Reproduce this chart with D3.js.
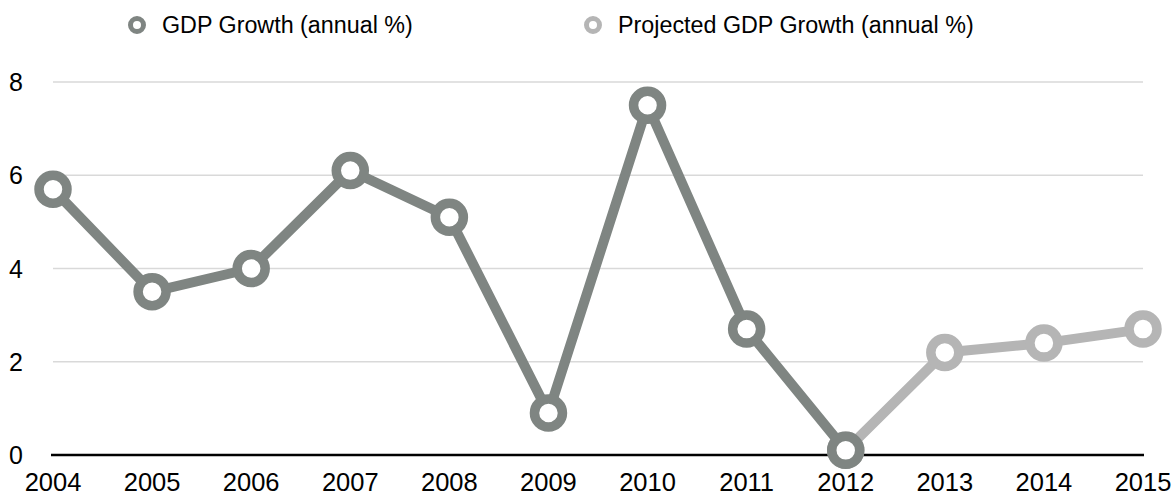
<!DOCTYPE html>
<html>
<head>
<meta charset="utf-8">
<script src="https://cdn.jsdelivr.net/npm/d3@7"></script>
<style>
    body { margin: 0; background: #fff; }
    text { font-family: "Liberation Sans", Arial, Helvetica, sans-serif; fill: #000; }
    .grid line { stroke: #d9d9d9; stroke-width: 1.5; }
</style>
</head>
<body>
<script>
// Data
const years = [2004, 2005, 2006, 2007, 2008, 2009, 2010, 2011, 2012, 2013, 2014, 2015];
const gdpGrowth = [5.7, 3.5, 4.0, 6.1, 5.1, 0.9, 7.5, 2.7, 0.1, null, null, null];
const projectedGrowth = [null, null, null, null, null, null, null, null, 0.1, 2.2, 2.4, 2.7];
const yTicks = [0, 2, 4, 6, 8];
const seriesNames = ['GDP Growth (annual %)', 'Projected GDP Growth (annual %)'];
const seriesColors = ['#7f8582', '#b5b5b5'];

const width = 1176, height = 496;
const margin = { left: 53, right: 33, top: 82, bottom: 41 };

const svg = d3.select("body").append("svg")
    .attr("width", width)
    .attr("height", height);

const x = d3.scalePoint()
    .domain(years)
    .range([margin.left, width - margin.right]);

const y = d3.scaleLinear()
    .domain([0, 8])
    .range([height - margin.bottom, margin.top]);

// gridlines
svg.append("g")
    .attr("class", "grid")
    .selectAll("line")
    .data(yTicks.filter(d => d > 0))
    .enter()
    .append("line")
    .attr("x1", margin.left)
    .attr("x2", width - margin.right)
    .attr("y1", d => y(d))
    .attr("y2", d => y(d));

// y labels
svg.append("g")
    .selectAll("text")
    .data(yTicks)
    .enter()
    .append("text")
    .attr("x", 9)
    .attr("y", d => y(d))
    .attr("dy", "0.36em")
    .style("font-size", "25px")
    .text(d => d);

// x axis baseline
svg.append("line")
    .attr("x1", margin.left - 2)
    .attr("x2", width - margin.right + 1)
    .attr("y1", y(0))
    .attr("y2", y(0))
    .attr("stroke", "#000")
    .attr("stroke-width", 2.5);

// x labels
svg.append("g")
    .selectAll("text")
    .data(years)
    .enter()
    .append("text")
    .attr("x", d => x(d))
    .attr("y", 491)
    .style("text-anchor", "middle")
    .style("font-size", "25.5px")
    .text(d => d);

// lines and markers
const allSeries = [gdpGrowth, projectedGrowth];
const line = d3.line()
    .defined(d => d.v !== null)
    .x(d => x(d.year))
    .y(d => y(d.v));

// draw projected first so actual sits on top at 2012
[1, 0].forEach(function (s) {
    const pts = years.map((yr, i) => ({ year: yr, v: allSeries[s][i] }));
    svg.append("path")
        .datum(pts)
        .attr("fill", "none")
        .attr("stroke", seriesColors[s])
        .attr("stroke-width", 10)
        .attr("stroke-linejoin", "round")
        .attr("d", line);
    svg.append("g")
        .selectAll("circle")
        .data(pts.filter(d => d.v !== null))
        .enter()
        .append("circle")
        .attr("cx", d => x(d.year))
        .attr("cy", d => y(d.v))
        .attr("r", 14)
        .attr("fill", "#fff")
        .attr("stroke", seriesColors[s])
        .attr("stroke-width", 9.5);
});

// legend
const legendX = [137, 593];
const legend = svg.append("g")
    .selectAll("g")
    .data(seriesNames)
    .enter()
    .append("g")
    .attr("transform", (d, i) => "translate(" + legendX[i] + ",25)");
legend.append("circle")
    .attr("r", 6.5)
    .attr("fill", "#fff")
    .attr("stroke", (d, i) => seriesColors[i])
    .attr("stroke-width", 5);
legend.append("text")
    .attr("x", 25)
    .attr("dy", "0.36em")
    .style("font-size", "23.3px")
    .text(d => d);
</script>
</body>
</html>
